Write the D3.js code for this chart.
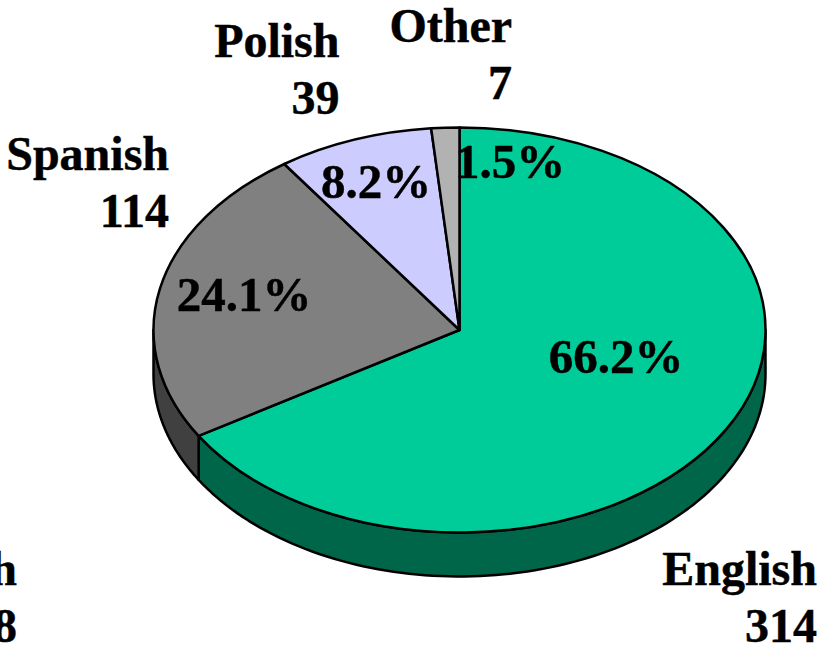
<!DOCTYPE html>
<html>
<head>
<meta charset="utf-8">
<script src="https://cdnjs.cloudflare.com/ajax/libs/d3/7.8.5/d3.min.js"></script>
<style>
html,body{margin:0;padding:0;background:#fff;overflow:hidden}
svg{display:block}
text{font-family:"Liberation Serif","Times New Roman",serif;font-weight:bold;fill:#000;stroke:#000;stroke-width:.45px}
</style>
</head>
<body>
<svg id="chart" width="821" height="651"></svg>
<script>
// Data
const categories = ["English", "Spanish", "Polish", "Other"];
const counts = [314, 114, 39, 7];
const percentLabels = ["66.2%", "24.1%", "8.2%", "1.5%"];
// Partly cropped label at the lower-left edge of the picture
const croppedLabel = ["h", "8"];

// Styles
const topColors = ["#00CC99", "#808080", "#CCCCFF", "#B2B2B2"];
const sideColors = ["#006649", "#404040", "#666680", "#595959"];

// Layout
const W = 821, H = 651;
const cx = 459.5, cy = 330, rx = 306, ry = 202.5, depth = 44;
const fontSize = 48, pctFontSize = 49, lineGap = 57;
const nameAnchors = [[817, 585], [169, 170], [339.5, 57], [512, 42]];
const pctAnchors = [[616, 373], [244, 311], [376, 198], [510, 178]];
const croppedAnchor = [17, 585];

const svg = d3.select("#chart");
const arcs = d3.pie().sort(null).value(d => d)(counts);

// Side wall of the pie: only the front half (90deg to 270deg) is visible
const px = a => cx + rx * Math.sin(a);
const py = a => cy - ry * Math.cos(a);
const wall = d3.area()
  .x(a => px(a))
  .y0(a => py(a))
  .y1(a => py(a) + depth);

arcs.forEach((d, i) => {
  const a0 = Math.max(d.startAngle, Math.PI / 2);
  const a1 = Math.min(d.endAngle, 3 * Math.PI / 2);
  if (a1 <= a0) return;
  const steps = d3.range(0, 101).map(k => a0 + (a1 - a0) * k / 100);
  svg.append("path")
    .attr("d", wall(steps) )
    .attr("fill", sideColors[i])
    .attr("stroke", "#000")
    .attr("stroke-width", 2.5)
    .attr("stroke-linejoin", "round");
});

// Top face: a circular pie flattened into an ellipse
const arc = d3.arc().innerRadius(0).outerRadius(rx);
svg.append("g")
  .attr("transform", `translate(${cx},${cy}) scale(1,${ry / rx})`)
  .selectAll("path")
  .data(arcs)
  .join("path")
  .attr("d", arc)
  .attr("fill", (d, i) => topColors[i])
  .attr("stroke", "#000")
  .attr("stroke-width", 2.5)
  .attr("stroke-linejoin", "round")
  .attr("vector-effect", "non-scaling-stroke");

// Category name and count, right aligned
const labels = svg.append("g").attr("font-size", fontSize).attr("text-anchor", "end");
categories.forEach((c, i) => {
  const [x, y] = nameAnchors[i];
  labels.append("text").attr("x", x).attr("y", y).text(c);
  labels.append("text").attr("x", x).attr("y", y + lineGap).text(counts[i]);
});
croppedLabel.forEach((t, i) => {
  labels.append("text").attr("x", croppedAnchor[0]).attr("y", croppedAnchor[1] + i * lineGap).text(t);
});

// Percentages on the slices
svg.append("g").attr("font-size", pctFontSize).attr("text-anchor", "middle")
  .selectAll("text")
  .data(percentLabels)
  .join("text")
  .attr("x", (d, i) => pctAnchors[i][0])
  .attr("y", (d, i) => pctAnchors[i][1])
  .text(d => d);
</script>
</body>
</html>
